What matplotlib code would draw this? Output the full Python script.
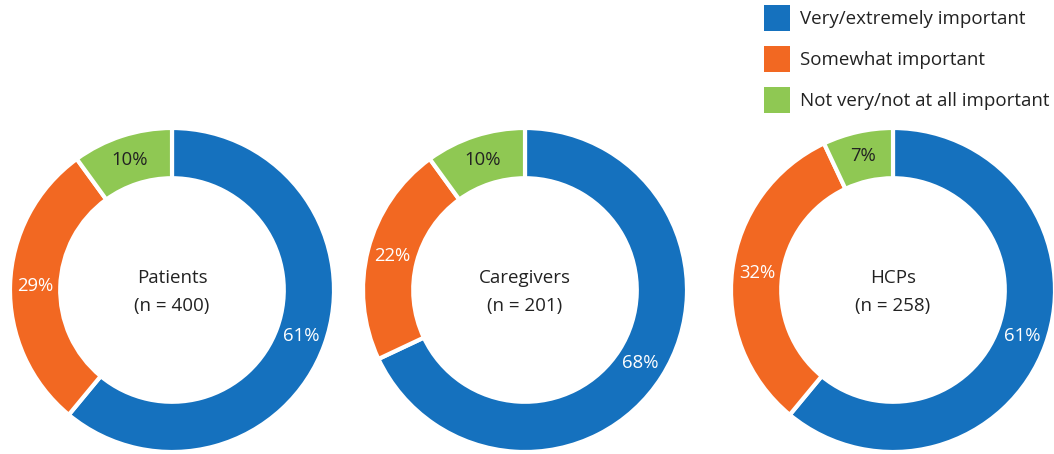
import matplotlib.pyplot as plt
from matplotlib.patches import Patch

plt.rcParams['font.family'] = ['Open Sans', 'DejaVu Sans']

groups = ["Patients", "Caregivers", "HCPs"]
sizes_n = [400, 201, 258]
categories = ["Very/extremely important", "Somewhat important", "Not very/not at all important"]
very = [61, 68, 61]
somewhat = [29, 22, 32]
not_very = [10, 10, 7]

colors = ["#1571be", "#f26822", "#8fc853"]
label_colors = ["white", "white", "#222222"]

W, H = 1054, 454
fig = plt.figure(figsize=(W / 100, H / 100), dpi=100)
ax = fig.add_axes([0, 0, 1, 1])

centers_x = [172, 525, 893]
center_y = H - 290
radius = 162

for i, name in enumerate(groups):
    vals = [very[i], somewhat[i], not_very[i]]
    wedges, texts, autotexts = ax.pie(
        vals, colors=colors, startangle=90, counterclock=False,
        center=(centers_x[i], center_y), radius=radius,
        autopct="%d%%", pctdistance=0.845,
        wedgeprops=dict(width=radius * 0.31, edgecolor="white", linewidth=3),
        textprops=dict(fontsize=13.3),
    )
    for t, c in zip(autotexts, label_colors):
        t.set_color(c)
    ax.text(centers_x[i], center_y - 2, f"{name}\n(n = {sizes_n[i]})",
            ha="center", va="center", fontsize=13.5, color="#222222",
            linespacing=1.75)

ax.set_xlim(0, W)
ax.set_ylim(0, H)
ax.set_aspect("equal")
ax.axis("off")

handles = [Patch(facecolor=c, edgecolor="none") for c in colors]
fig.legend(handles, categories, loc="upper left",
           bbox_to_anchor=(764 / W, 1 - 5 / H), frameon=False,
           fontsize=13.5, borderpad=0, borderaxespad=0,
           handlelength=1.387, handleheight=1.757, handletextpad=0.55,
           labelspacing=0.8, labelcolor="#222222")

fig.savefig("out.png", dpi=100)
